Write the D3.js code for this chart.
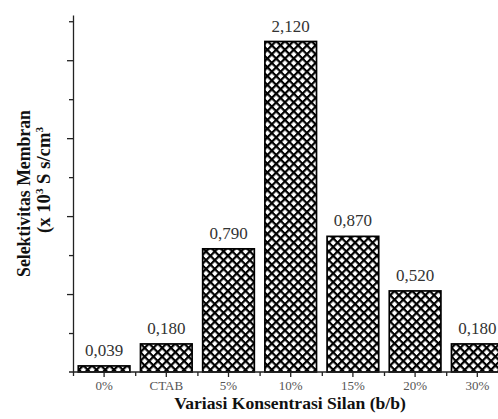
<!DOCTYPE html>
<html>
<head>
<meta charset="utf-8">
<script src="https://cdn.jsdelivr.net/npm/d3@7"></script>
<style>
  body { margin: 0; background: #fff; }
  svg { display: block; }
</style>
</head>
<body>
<svg id="chart"></svg>
<script>
var categories = ["0%", "CTAB", "5%", "10%", "15%", "20%", "30%"];
var values = [0.039, 0.180, 0.790, 2.120, 0.870, 0.520, 0.180];
var valueLabels = ["0,039", "0,180", "0,790", "2,120", "0,870", "0,520", "0,180"];
var majorTicks = [0.5, 1.0, 1.5, 2.0];
var minorTicks = [0.25, 0.75, 1.25, 1.75, 2.25];

var svgWidth = 498, svgHeight = 419;
var x0 = 73, base = 372, step = 62.2;
var serif = "'Liberation Serif', 'Times New Roman', 'DejaVu Serif', serif";

var svg = d3.select("#chart")
  .attr("width", svgWidth)
  .attr("height", svgHeight);

// crosshatch fill
var defs = svg.append("defs");
var d = 6.2, lw = 2.2;
var pat = defs.append("pattern")
  .attr("id", "hatch")
  .attr("patternUnits", "userSpaceOnUse")
  .attr("width", d)
  .attr("height", d)
  .attr("patternTransform", "rotate(45)");
pat.append("rect").attr("width", d).attr("height", d).attr("fill", "#fff");
pat.append("rect").attr("width", d).attr("height", lw).attr("fill", "#000");
pat.append("rect").attr("width", lw).attr("height", d).attr("fill", "#000");

var x = d3.scaleBand()
  .domain(categories)
  .range([x0, x0 + step * categories.length])
  .paddingInner(0.17)
  .paddingOuter(0.085);

var y = d3.scaleLinear()
  .domain([0, 2.29])
  .range([base, 15]);

// bars
svg.selectAll("rect.bar")
  .data(values)
  .enter().append("rect")
  .attr("class", "bar")
  .attr("x", function(v, i) { return x(categories[i]); })
  .attr("y", function(v) { return y(v); })
  .attr("width", x.bandwidth())
  .attr("height", function(v) { return base - y(v); })
  .attr("fill", "url(#hatch)")
  .attr("stroke", "#000")
  .attr("stroke-width", 1.7);

// value labels
svg.selectAll("text.val")
  .data(values)
  .enter().append("text")
  .attr("class", "val")
  .attr("x", function(v, i) { return x(categories[i]) + x.bandwidth() / 2; })
  .attr("y", function(v) { return y(v) - 10; })
  .attr("text-anchor", "middle")
  .attr("font-family", serif)
  .attr("font-size", 17)
  .attr("fill", "#333")
  .text(function(v, i) { return valueLabels[i]; });

// y axis: major + minor ticks, no labels
var yAxisMajor = d3.axisLeft(y).tickValues(majorTicks).tickSize(6).tickFormat("").tickSizeOuter(0);
var yAxisMinor = d3.axisLeft(y).tickValues(minorTicks).tickSize(4).tickFormat("").tickSizeOuter(0);
var gy = svg.append("g").attr("transform", "translate(" + x0 + ",0)").call(yAxisMajor);
svg.append("g").attr("transform", "translate(" + x0 + ",0)").call(yAxisMinor)
  .select(".domain").remove();
gy.selectAll("path, line").attr("stroke", "#222").attr("stroke-width", 1.3);
svg.selectAll("g.tick line").attr("stroke", "#222").attr("stroke-width", 1.3);

// x axis
var xAxis = d3.axisBottom(x).tickSize(5).tickSizeOuter(0).tickPadding(4);
var gx = svg.append("g").attr("transform", "translate(0," + base + ")").call(xAxis);
gx.select(".domain").attr("d", "M" + (x0 - 4) + ",0H" + svgWidth).attr("stroke", "#222").attr("stroke-width", 1.3);
gx.selectAll(".tick line").attr("stroke", "#222").attr("stroke-width", 1.3);
gx.selectAll(".tick text")
  .attr("font-family", serif)
  .attr("font-size", 13)
  .attr("fill", "#555");

// minor x ticks between categories
var bounds = d3.range(categories.length + 1).map(function(i) { return x0 + i * step; });
var xMinor = d3.scaleLinear().domain([x0, x0 + step * 7]).range([x0, x0 + step * 7]);
svg.append("g").attr("transform", "translate(0," + base + ")")
  .call(d3.axisBottom(xMinor).tickValues(bounds).tickSize(4).tickFormat("").tickSizeOuter(0))
  .call(function(g) { g.select(".domain").remove(); })
  .selectAll("line").attr("stroke", "#222").attr("stroke-width", 1.3);

// stretch a text to the length it has in the picture
function fitTo(sel, len) {
  var w = sel.node().getComputedTextLength();
  var t = sel.attr("transform") || "";
  sel.attr("transform", t + " scale(" + (len / w) + ",1)");
}

// axis titles
var xt = svg.append("text")
  .attr("transform", "translate(290,409)")
  .attr("text-anchor", "middle")
  .attr("font-family", serif)
  .attr("font-weight", "bold")
  .attr("font-size", 17)
  .attr("fill", "#111")
  .text("Variasi Konsentrasi Silan (b/b)");
fitTo(xt, 232);

var t1 = svg.append("text")
  .attr("transform", "translate(30,193.5) rotate(-90)")
  .attr("text-anchor", "middle")
  .attr("font-family", serif)
  .attr("font-weight", "bold")
  .attr("font-size", 18.5)
  .attr("fill", "#111")
  .text("Selektivitas Membran");
fitTo(t1, 167);

var t2 = svg.append("text")
  .attr("transform", "translate(50,180) rotate(-90)")
  .attr("text-anchor", "middle")
  .attr("font-family", serif)
  .attr("font-weight", "bold")
  .attr("font-size", 18.5)
  .attr("fill", "#111");
t2.append("tspan").text("(x 10");
t2.append("tspan").attr("font-size", 11).attr("dy", -7).text("3");
t2.append("tspan").attr("dy", 7).text(" S s/cm");
t2.append("tspan").attr("font-size", 11).attr("dy", -7).text("3");
fitTo(t2, 106);
</script>
</body>
</html>
